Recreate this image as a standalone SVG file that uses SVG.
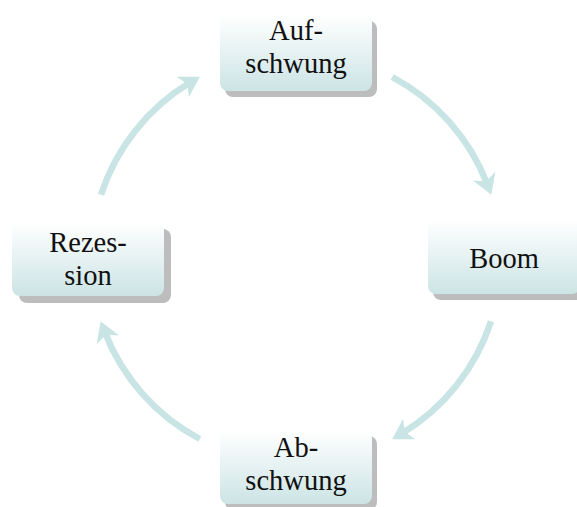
<svg xmlns="http://www.w3.org/2000/svg" width="577" height="507" viewBox="0 0 577 507">
<style>
.box{fill:url(#g);}
.sh{fill:#bdbdbd;}
.t{font-family:"Liberation Serif","Times New Roman",serif;font-size:28.5px;fill:#111;text-anchor:middle;}
.arr{fill:none;stroke:#c9e4e4;stroke-width:6.5;marker-end:url(#ah);}
</style>
<defs>
<linearGradient id="g" x1="0" y1="0" x2="0" y2="1">
<stop offset="0" stop-color="#ffffff"/>
<stop offset="1" stop-color="#cce4e5"/>
</linearGradient>
<marker id="ah" markerUnits="userSpaceOnUse" markerWidth="34" markerHeight="34" viewBox="-17 -17 34 34" refX="0" refY="0" orient="auto">
<path d="M11,0 L-9,-12 L-3.5,0 L-9,12 Z" fill="#c9e4e4"/>
</marker>
</defs>
<g id="connectors">
<path class="arr" d="M392.2,77 A205,205 0 0 1 487.4,184.5"/>
<path class="arr" d="M491,321.3 A205,205 0 0 1 401.6,433.7"/>
<path class="arr" d="M199.8,439 A205,205 0 0 1 104.6,331.5"/>
<path class="arr" d="M101,194.7 A205,205 0 0 1 190.4,82.3"/>
</g>
<g id="aufschwung">
<rect class="sh" x="225" y="21" width="152" height="76" rx="8"/>
<rect class="box" x="220" y="15" width="152" height="76" rx="8"/>
<text class="t" x="296" y="40">Auf-</text>
<text class="t" x="296" y="73">schwung</text>
</g>
<g id="boom">
<rect class="sh" x="433" y="226" width="152" height="74" rx="8"/>
<rect class="box" x="428" y="220" width="152" height="74" rx="8"/>
<text class="t" x="504" y="268">Boom</text>
</g>
<g id="abschwung">
<rect class="sh" x="225" y="436" width="152" height="74" rx="8"/>
<rect class="box" x="220" y="430" width="152" height="74" rx="8"/>
<text class="t" x="296" y="457">Ab-</text>
<text class="t" x="296" y="490">schwung</text>
</g>
<g id="rezession">
<rect class="sh" x="19" y="229" width="152" height="74" rx="8"/>
<rect class="box" x="12" y="222" width="152" height="74" rx="8"/>
<text class="t" x="88" y="252">Rezes-</text>
<text class="t" x="88" y="285">sion</text>
</g>
</svg>
